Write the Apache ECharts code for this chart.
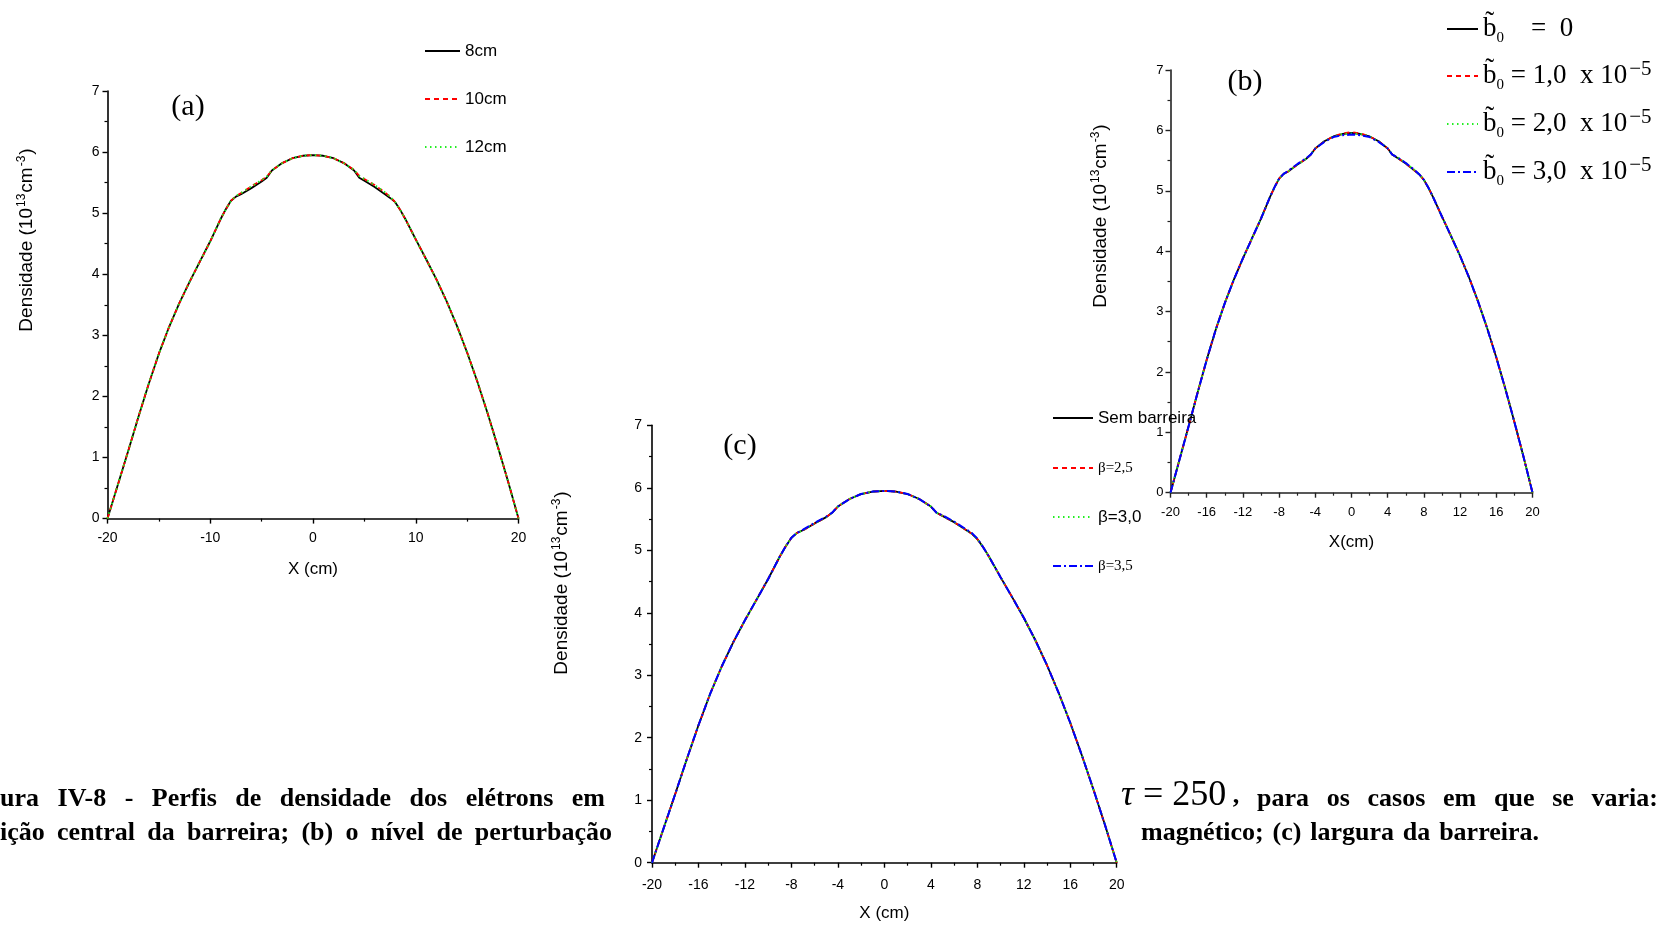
<!DOCTYPE html>
<html>
<head>
<meta charset="utf-8">
<title>Perfis de densidade dos elétrons</title>
<script src="https://cdn.jsdelivr.net/npm/echarts@6/dist/echarts.min.js"></script>
<style>
  html, body { margin: 0; padding: 0; background: #fff; }
  #main { width: 1663px; height: 928px; }
</style>
</head>
<body>
<div id="main"></div>
<script>
// Radial positions X (cm)
const xPos = [-20, -19, -18, -17, -16, -15, -14, -13, -12, -11, -10, -9, -8.5, -8, -7.5, -7, -6, -5, -4.5, -4, -3, -2, -1,
  0, 1, 2, 3, 4, 4.5, 5, 6, 7, 7.5, 8, 8.5, 9, 10, 11, 12, 13, 14, 15, 16, 17, 18, 19, 20];

// (a) barrier centre position
const dens8cm  = [0, 0.55, 1.10, 1.66, 2.20, 2.70, 3.14, 3.53, 3.88, 4.21, 4.54, 4.90, 5.06, 5.20, 5.27, 5.31, 5.41, 5.52, 5.58, 5.70, 5.82, 5.90, 5.94,
  5.95, 5.94, 5.90, 5.82, 5.70, 5.58, 5.53, 5.43, 5.31, 5.25, 5.18, 5.05, 4.90, 4.57, 4.25, 3.92, 3.56, 3.16, 2.72, 2.24, 1.72, 1.17, 0.60, 0];
const dens10cm = [0, 0.55, 1.10, 1.66, 2.20, 2.70, 3.14, 3.53, 3.88, 4.21, 4.54, 4.90, 5.06, 5.20, 5.28, 5.33, 5.44, 5.54, 5.60, 5.70, 5.82, 5.90, 5.94,
  5.95, 5.94, 5.90, 5.82, 5.71, 5.61, 5.56, 5.46, 5.34, 5.27, 5.18, 5.05, 4.90, 4.57, 4.25, 3.92, 3.56, 3.16, 2.72, 2.24, 1.72, 1.17, 0.60, 0];
const dens12cm = [0, 0.55, 1.10, 1.66, 2.20, 2.70, 3.14, 3.53, 3.88, 4.21, 4.54, 4.90, 5.06, 5.20, 5.28, 5.33, 5.44, 5.54, 5.60, 5.70, 5.82, 5.90, 5.94,
  5.95, 5.94, 5.90, 5.82, 5.71, 5.61, 5.56, 5.46, 5.34, 5.27, 5.18, 5.05, 4.90, 4.57, 4.25, 3.92, 3.56, 3.16, 2.72, 2.24, 1.72, 1.17, 0.60, 0];

// (b) magnetic perturbation level
const densB0   = [0, 0.55, 1.10, 1.66, 2.20, 2.70, 3.14, 3.53, 3.88, 4.21, 4.54, 4.90, 5.06, 5.20, 5.28, 5.32, 5.43, 5.53, 5.60, 5.70, 5.82, 5.90, 5.94,
  5.96, 5.94, 5.90, 5.82, 5.70, 5.60, 5.55, 5.45, 5.33, 5.27, 5.18, 5.05, 4.90, 4.57, 4.25, 3.92, 3.56, 3.16, 2.72, 2.24, 1.72, 1.17, 0.60, 0];
const densB1   = [0, 0.55, 1.10, 1.66, 2.20, 2.70, 3.14, 3.53, 3.88, 4.21, 4.54, 4.90, 5.06, 5.20, 5.28, 5.32, 5.43, 5.53, 5.60, 5.70, 5.82, 5.90, 5.95,
  5.97, 5.95, 5.90, 5.82, 5.70, 5.60, 5.55, 5.45, 5.33, 5.27, 5.18, 5.05, 4.90, 4.57, 4.25, 3.92, 3.56, 3.16, 2.72, 2.24, 1.72, 1.17, 0.60, 0];
const densB2   = [0, 0.55, 1.10, 1.66, 2.20, 2.70, 3.14, 3.53, 3.88, 4.21, 4.54, 4.90, 5.06, 5.20, 5.28, 5.32, 5.43, 5.53, 5.60, 5.70, 5.82, 5.90, 5.94,
  5.95, 5.94, 5.90, 5.82, 5.70, 5.60, 5.56, 5.46, 5.34, 5.27, 5.18, 5.05, 4.90, 4.57, 4.25, 3.92, 3.56, 3.16, 2.72, 2.24, 1.72, 1.17, 0.60, 0];
const densB3   = [0, 0.55, 1.10, 1.66, 2.20, 2.70, 3.14, 3.53, 3.88, 4.21, 4.54, 4.90, 5.06, 5.20, 5.28, 5.33, 5.44, 5.54, 5.60, 5.70, 5.81, 5.89, 5.92,
  5.93, 5.92, 5.89, 5.81, 5.70, 5.60, 5.56, 5.46, 5.34, 5.27, 5.18, 5.05, 4.90, 4.57, 4.25, 3.92, 3.56, 3.16, 2.72, 2.24, 1.72, 1.17, 0.60, 0];

// (c) barrier width
const densSem  = [0, 0.55, 1.10, 1.66, 2.20, 2.70, 3.14, 3.53, 3.88, 4.21, 4.54, 4.90, 5.06, 5.20, 5.28, 5.32, 5.43, 5.53, 5.60, 5.70, 5.82, 5.90, 5.94,
  5.95, 5.94, 5.90, 5.82, 5.70, 5.60, 5.55, 5.45, 5.33, 5.27, 5.18, 5.05, 4.90, 4.57, 4.25, 3.92, 3.56, 3.16, 2.72, 2.24, 1.72, 1.17, 0.60, 0];
const densBeta25 = [0, 0.55, 1.10, 1.66, 2.20, 2.70, 3.14, 3.53, 3.88, 4.21, 4.54, 4.90, 5.06, 5.20, 5.28, 5.32, 5.43, 5.53, 5.60, 5.70, 5.82, 5.90, 5.94,
  5.95, 5.94, 5.90, 5.82, 5.70, 5.60, 5.55, 5.45, 5.33, 5.27, 5.18, 5.05, 4.90, 4.57, 4.25, 3.92, 3.56, 3.16, 2.72, 2.24, 1.72, 1.17, 0.60, 0];
const densBeta30 = [0, 0.55, 1.10, 1.66, 2.20, 2.70, 3.14, 3.53, 3.88, 4.21, 4.54, 4.90, 5.06, 5.20, 5.28, 5.32, 5.43, 5.53, 5.60, 5.70, 5.82, 5.90, 5.94,
  5.95, 5.94, 5.90, 5.82, 5.70, 5.60, 5.55, 5.45, 5.33, 5.27, 5.18, 5.05, 4.90, 4.57, 4.25, 3.92, 3.56, 3.16, 2.72, 2.24, 1.72, 1.17, 0.60, 0];
const densBeta35 = [0, 0.55, 1.10, 1.66, 2.20, 2.70, 3.14, 3.53, 3.88, 4.21, 4.54, 4.90, 5.06, 5.20, 5.28, 5.33, 5.44, 5.54, 5.60, 5.70, 5.82, 5.90, 5.94,
  5.95, 5.94, 5.90, 5.82, 5.70, 5.60, 5.56, 5.46, 5.34, 5.28, 5.19, 5.05, 4.90, 4.57, 4.25, 3.92, 3.56, 3.16, 2.72, 2.24, 1.72, 1.17, 0.60, 0];

// Legend labels
const namesA = ['8cm', '10cm', '12cm'];
const namesB = ['b0 = 0', 'b0 = 1,0 x 10-5', 'b0 = 2,0 x 10-5', 'b0 = 3,0 x 10-5'];
const namesC = ['Sem barreira', 'β=2,5', 'β=3,0', 'β=3,5'];

// Caption fragments
const capLine1Left  = ['ura', 'IV-8', '-', 'Perfis', 'de', 'densidade', 'dos', 'elétrons', 'em'];
const capLine1Right = ['para', 'os', 'casos', 'em', 'que', 'se', 'varia:'];
const capLine2Left  = ['ição', 'central', 'da', 'barreira;', '(b)', 'o', 'nível', 'de', 'perturbação'];
const capLine2Right = ['magnético;', '(c)', 'largura', 'da', 'barreira.'];

const SANS = 'Liberation Sans';
const SERIF = 'Liberation Serif';

const pairs = ys => xPos.map((x, i) => [x, ys[i]]);

const styles = {
  solid:   { color: '#000000', width: 1.8, type: 'solid' },
  dashed:  { color: '#ff0000', width: 1.8, type: [5, 4] },
  dotted:  { color: '#22ee22', width: 2, type: [1.5, 3.5] },
  dashdot: { color: '#0000ff', width: 2, type: [8, 3, 2, 3] }
};

// Plot areas
const grids = [
  { left: 107.5, top: 91,    width: 411,   height: 427.6 },
  { left: 1170.5, top: 70,   width: 362,   height: 422.7 },
  { left: 652,   top: 425.3, width: 464.7, height: 437.4 }
];

function xAxisFor(gi, interval, name, opts) {
  return {
    gridIndex: gi, type: 'value', min: -20, max: 20, interval: interval,
    name: name, nameLocation: 'middle', nameGap: opts.nameGap,
    nameTextStyle: { fontFamily: SANS, fontSize: 17, color: '#000' },
    axisLine: { onZero: false, lineStyle: { color: opts.color, width: 1.6 } },
    axisTick: { show: true, inside: false, length: 5, lineStyle: { color: opts.color, width: 1.4 } },
    minorTick: { show: true, splitNumber: 2, length: 3, lineStyle: { color: opts.color, width: 1.2 } },
    axisLabel: { fontFamily: SANS, fontSize: opts.fontSize, color: '#000', margin: opts.margin },
    splitLine: { show: false }, minorSplitLine: { show: false }
  };
}
function yAxisFor(gi, opts) {
  return {
    gridIndex: gi, type: 'value', min: 0, max: 7, interval: 1,
    axisLine: { show: true, onZero: false, lineStyle: { color: opts.color, width: 1.6 } },
    axisTick: { show: true, inside: false, length: 5, lineStyle: { color: opts.color, width: 1.4 } },
    minorTick: { show: true, splitNumber: 2, length: 3, lineStyle: { color: opts.color, width: 1.2 } },
    axisLabel: { fontFamily: SANS, fontSize: opts.fontSize, color: '#000', margin: opts.margin },
    splitLine: { show: false }, minorSplitLine: { show: false }
  };
}

function lineSeries(name, gi, ys, st) {
  return {
    name: name, type: 'line', xAxisIndex: gi, yAxisIndex: gi,
    data: pairs(ys), symbol: 'none', smooth: false,
    lineStyle: st, itemStyle: { color: st.color }, emphasis: { disabled: true }
  };
}

const series = [
  lineSeries(namesA[0], 0, dens8cm, styles.solid),
  lineSeries(namesA[1], 0, dens10cm, styles.dashed),
  lineSeries(namesA[2], 0, dens12cm, styles.dotted),
  lineSeries(namesB[0], 1, densB0, styles.solid),
  lineSeries(namesB[1], 1, densB1, styles.dashed),
  lineSeries(namesB[2], 1, densB2, styles.dotted),
  lineSeries(namesB[3], 1, densB3, styles.dashdot),
  lineSeries(namesC[0], 2, densSem, styles.solid),
  lineSeries(namesC[1], 2, densBeta25, styles.dashed),
  lineSeries(namesC[2], 2, densBeta30, styles.dotted),
  lineSeries(namesC[3], 2, densBeta35, styles.dashdot)
];

// Legend texts for (b): b with tilde, subscript 0, power of ten
const bLegendText = {
  'b0 = 0':          '{b|b\u0303}{s|0}{t|    =  0}',
  'b0 = 1,0 x 10-5': '{b|b\u0303}{s|0}{t| = 1,0  x 10}{p|\u22125}',
  'b0 = 2,0 x 10-5': '{b|b\u0303}{s|0}{t| = 2,0  x 10}{p|\u22125}',
  'b0 = 3,0 x 10-5': '{b|b\u0303}{s|0}{t| = 3,0  x 10}{p|\u22125}'
};
const cLegendText = {
  'Sem barreira': '{a|Sem barreira}',
  'β=2,5': '{r|β=2,5}',
  'β=3,0': '{a|β=3,0}',
  'β=3,5': '{r|β=3,5}'
};

function legendItem(name, left, centerY, itemWidth, lineH, textStyle, formatter) {
  return {
    data: [name], left: left, top: centerY - lineH / 2, orient: 'vertical', padding: 0,
    itemWidth: itemWidth, itemHeight: 14, selectedMode: false,
    // line sample only, no marker on it
    itemStyle: { opacity: 0, borderWidth: 0 },
    textStyle: textStyle, formatter: formatter
  };
}

const legendA = namesA.map((n, i) => legendItem(n, 424, [51, 99, 147][i], 35, 20,
  { fontFamily: SANS, fontSize: 17, color: '#000', lineHeight: 20 }));
const legendB = namesB.map((n, i) => legendItem(n, 1446, [29, 76, 124, 172][i], 31, 34,
  {
    color: '#000', fontFamily: SERIF, fontSize: 27, lineHeight: 34,
    rich: {
      b: { fontFamily: SERIF, fontSize: 27, lineHeight: 34, color: '#000' },
      s: { fontFamily: SERIF, fontSize: 15, lineHeight: 14, verticalAlign: 'bottom', color: '#000' },
      t: { fontFamily: SERIF, fontSize: 27, lineHeight: 34, color: '#000' },
      p: { fontFamily: SERIF, fontSize: 21, lineHeight: 14, verticalAlign: 'top', padding: [0, 0, 0, 2], color: '#000' }
    }
  }, name => bLegendText[name]));
const legendC = namesC.map((n, i) => legendItem(n, 1052, [418, 468, 517, 566][i], 40, 22,
  {
    color: '#000', fontSize: 17, lineHeight: 22,
    rich: {
      a: { fontFamily: SANS, fontSize: 17, lineHeight: 22, color: '#000' },
      r: { fontFamily: SERIF, fontSize: 15, lineHeight: 22, color: '#000' }
    }
  }, name => cLegendText[name]));

// Text measurement for the justified caption lines
const measureCtx = document.createElement('canvas').getContext('2d');
function textWidth(t, font) { measureCtx.font = font; return measureCtx.measureText(t).width; }

const CAP_SIZE = 26;
const capFont = 'bold ' + CAP_SIZE + 'px "' + SERIF + '"';
function justifiedWords(words, x0, x1, y) {
  const widths = words.map(w => textWidth(w, capFont));
  const total = widths.reduce((a, b) => a + b, 0);
  const gap = words.length > 1 ? (x1 - x0 - total) / (words.length - 1) : 0;
  let x = x0;
  return words.map((w, i) => {
    const el = {
      type: 'text', x: x, y: y, silent: true,
      style: { text: w, fontFamily: SERIF, fontSize: CAP_SIZE, fontWeight: 'bold', fill: '#000', align: 'left', verticalAlign: 'middle' }
    };
    x += widths[i] + gap;
    return el;
  });
}

function yTitle(cx, cy) {
  return {
    type: 'text', x: cx, y: cy, rotation: Math.PI / 2, silent: true,
    style: {
      text: 'Densidade (10{s|13}cm{s|-3})',
      fontFamily: SANS, fontSize: 19, lineHeight: 23, fill: '#000', align: 'center', verticalAlign: 'middle',
      rich: { s: { fontFamily: SANS, fontSize: 12, lineHeight: 12, verticalAlign: 'top', padding: [0, 1, 0, 1], fill: '#000', color: '#000' } }
    }
  };
}
function panelTag(text, cx, cy) {
  return {
    type: 'text', x: cx, y: cy, silent: true,
    style: { text: text, fontFamily: SERIF, fontSize: 30, fill: '#000', align: 'center', verticalAlign: 'middle' }
  };
}

const capY1 = 799, capY2 = 833;
const graphics = [
  yTitle(27, 240),
  yTitle(1101, 216),
  yTitle(562, 583),
  panelTag('(a)', 188, 107),
  panelTag('(b)', 1245, 82),
  panelTag('(c)', 740, 446),
  ...justifiedWords(capLine1Left, 0, 605, capY1),
  ...justifiedWords(capLine2Left, 0, 612, capY2),
  {
    type: 'text', x: 1121, y: capY1 - 3, silent: true,
    style: {
      text: '{i|τ}{n| = 250}{c| ,}',
      fill: '#000', align: 'left', verticalAlign: 'middle',
      rich: {
        i: { fontFamily: SERIF, fontStyle: 'italic', fontSize: 36, lineHeight: 38, fill: '#000', color: '#000' },
        n: { fontFamily: SERIF, fontSize: 36, lineHeight: 38, fill: '#000', color: '#000' },
        c: { fontFamily: SERIF, fontSize: CAP_SIZE, fontWeight: 'bold', lineHeight: 38, fill: '#000', color: '#000' }
      }
    }
  },
  ...justifiedWords(capLine1Right, 1257, 1658, capY1),
  ...justifiedWords(capLine2Right, 1141, 1539, capY2)
];

const option = {
  animation: false,
  backgroundColor: '#ffffff',
  grid: grids.map(g => Object.assign({ containLabel: false }, g)),
  xAxis: [
    xAxisFor(0, 10, 'X (cm)', { color: '#000', fontSize: 14, margin: 13, nameGap: 42 }),
    xAxisFor(1, 4, 'X(cm)', { color: '#222', fontSize: 13, margin: 13, nameGap: 41 }),
    xAxisFor(2, 4, 'X (cm)', { color: '#000', fontSize: 14, margin: 15, nameGap: 42 })
  ],
  yAxis: [
    yAxisFor(0, { color: '#000', fontSize: 14, margin: 8 }),
    yAxisFor(1, { color: '#222', fontSize: 13, margin: 7 }),
    yAxisFor(2, { color: '#000', fontSize: 14, margin: 10 })
  ],
  legend: [...legendA, ...legendB, ...legendC],
  series: series,
  graphic: graphics
};

const chart = echarts.init(document.getElementById('main'), null, { renderer: 'canvas' });
chart.setOption(option);
</script>
</body>
</html>
